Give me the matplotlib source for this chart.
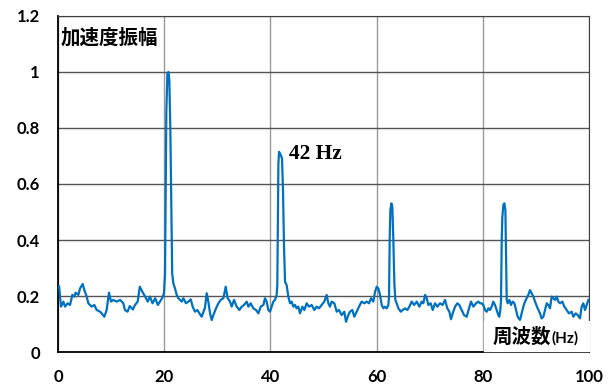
import matplotlib
matplotlib.use('Agg')
import matplotlib.pyplot as plt

plt.rcParams['font.family'] = ['Lato', 'Liberation Sans', 'DejaVu Sans']
plt.rcParams['font.weight'] = 'bold'

# spectrum (Hz, amplitude)
freq = [0.2, 0.56, 1.0, 1.32, 1.82, 2.26, 2.7, 3.08, 3.33, 3.83, 4.14, 4.65, 4.96, 5.4, 5.71,
        6.34, 6.84, 7.28, 7.91, 8.22, 8.72, 9.16, 9.6, 9.98, 10.4, 11.05, 11.7, 12.3, 12.6,
        13.1, 13.5, 14.1, 14.5, 15.0, 15.4, 15.9, 16.4, 16.9, 17.3, 17.8, 18.3, 18.8, 19.2,
        19.6, 19.96, 20.15, 20.28, 20.4, 20.6, 20.8, 20.96, 21.15, 21.34, 21.5, 21.72, 22.03,
        22.35, 22.66, 22.98, 23.29, 23.6, 24.1, 24.55, 24.99, 25.36, 25.8, 26.24, 26.62,
        27.06, 27.68, 28.0, 28.31, 28.63, 28.94, 29.25, 29.76, 30.2, 30.63, 31.14, 31.58,
        31.95, 32.4, 32.7, 33.15, 33.65, 34.15, 34.59, 35.03, 35.53, 35.85, 36.28, 36.79,
        37.29, 37.73, 38.17, 38.67, 38.98, 39.29, 39.61, 39.92, 40.24, 40.55, 40.86, 41.18,
        41.3, 41.4, 41.5, 41.62, 41.93, 42.18, 42.37, 42.56, 42.75, 43.06, 43.37, 43.69,
        44.0, 44.32, 44.63, 44.94, 45.26, 45.57, 46.01, 46.39, 46.83, 47.27, 47.77, 48.27,
        48.71, 49.15, 49.65, 50.15, 50.59, 50.91, 51.22, 51.53, 52.04, 52.48, 52.92, 53.42,
        53.92, 54.23, 54.67, 54.99, 55.43, 55.8, 56.24, 56.68, 57.18, 57.69, 58.13, 58.57,
        58.94, 59.38, 59.7, 60.02, 60.33, 60.64, 60.96, 61.27, 61.58, 61.9, 62.21, 62.34,
        62.46, 62.59, 62.78, 62.96, 63.15, 63.34, 63.53, 63.78, 64.1, 64.54, 64.91, 65.35,
        65.79, 66.17, 66.6, 67.05, 67.55, 68.05, 68.49, 68.8, 69.12, 69.43, 69.75, 70.19,
        70.56, 71.0, 71.44, 71.94, 72.44, 72.88, 73.32, 73.7, 74.01, 74.33, 74.77, 75.21,
        75.58, 76.02, 76.46, 76.96, 77.4, 77.78, 78.22, 78.72, 79.16, 79.47, 79.79, 80.1,
        80.41, 80.73, 81.04, 81.35, 81.67, 81.98, 82.3, 82.61, 82.92, 83.11, 83.3, 83.43,
        83.56, 83.68, 83.87, 84.06, 84.25, 84.37, 84.5, 84.68, 84.99, 85.31, 85.62, 85.94,
        86.19, 86.56, 87.0, 87.32, 87.63, 87.95, 88.26, 88.57, 88.89, 89.2, 89.52, 89.83,
        90.33, 90.77, 91.08, 91.4, 91.71, 92.03, 92.34, 92.65, 92.97, 93.28, 93.6, 93.91,
        94.22, 94.54, 94.98, 95.35, 95.79, 96.23, 96.73, 97.05, 97.49, 97.86, 98.3, 98.62,
        98.93, 99.25, 99.56, 99.87]
amp = [0.235, 0.162, 0.18, 0.162, 0.174, 0.168, 0.204, 0.198, 0.212, 0.204, 0.227, 0.243, 0.221,
       0.198, 0.174, 0.162, 0.168, 0.15, 0.144, 0.138, 0.126, 0.15, 0.212, 0.18, 0.186, 0.18,
       0.186, 0.174, 0.15, 0.144, 0.164, 0.152, 0.168, 0.18, 0.233, 0.215, 0.198, 0.18, 0.198,
       0.174, 0.192, 0.168, 0.18, 0.192, 0.21, 0.28, 0.57, 0.86, 0.996, 1.0, 0.971, 0.80,
       0.51, 0.28, 0.245, 0.227, 0.204, 0.192, 0.186, 0.18, 0.192, 0.174, 0.18, 0.188, 0.162,
       0.144, 0.15, 0.138, 0.126, 0.159, 0.21, 0.18, 0.138, 0.114, 0.132, 0.156, 0.174,
       0.186, 0.192, 0.233, 0.192, 0.18, 0.162, 0.186, 0.162, 0.15, 0.162, 0.168, 0.18,
       0.162, 0.174, 0.156, 0.15, 0.138, 0.162, 0.168, 0.192, 0.18, 0.15, 0.144, 0.162,
       0.18, 0.186, 0.204, 0.24, 0.45, 0.67, 0.715, 0.704, 0.692, 0.579, 0.376, 0.251, 0.239,
       0.198, 0.174, 0.18, 0.162, 0.168, 0.156, 0.162, 0.138, 0.162, 0.15, 0.174, 0.162,
       0.168, 0.15, 0.162, 0.156, 0.168, 0.18, 0.204, 0.174, 0.162, 0.18, 0.174, 0.144,
       0.15, 0.132, 0.144, 0.108, 0.132, 0.144, 0.15, 0.126, 0.144, 0.162, 0.18, 0.174,
       0.18, 0.174, 0.192, 0.18, 0.215, 0.233, 0.227, 0.204, 0.168, 0.156, 0.162, 0.156,
       0.168, 0.198, 0.40, 0.507, 0.531, 0.519, 0.40, 0.245, 0.186, 0.174, 0.156, 0.144,
       0.15, 0.156, 0.15, 0.162, 0.18, 0.168, 0.18, 0.162, 0.18, 0.174, 0.204, 0.192, 0.168,
       0.174, 0.15, 0.174, 0.162, 0.174, 0.168, 0.186, 0.156, 0.144, 0.117, 0.138, 0.162,
       0.174, 0.168, 0.15, 0.132, 0.126, 0.156, 0.18, 0.162, 0.174, 0.18, 0.174, 0.174,
       0.168, 0.15, 0.144, 0.156, 0.15, 0.162, 0.18, 0.168, 0.15, 0.132, 0.126, 0.15, 0.186,
       0.40, 0.483, 0.525, 0.531, 0.507, 0.34, 0.186, 0.174, 0.186, 0.168, 0.18, 0.174,
       0.156, 0.126, 0.114, 0.138, 0.162, 0.18, 0.192, 0.204, 0.221, 0.21, 0.198, 0.18,
       0.156, 0.138, 0.12, 0.126, 0.15, 0.174, 0.168, 0.156, 0.198, 0.192, 0.186, 0.198,
       0.18, 0.174, 0.18, 0.162, 0.15, 0.138, 0.144, 0.126, 0.138, 0.132, 0.12, 0.162,
       0.174, 0.15, 0.168, 0.186]

x_ticks = [0, 20, 40, 60, 80, 100]
y_ticks = [0, 0.2, 0.4, 0.6, 0.8, 1, 1.2]
y_labels = ['0', '0.2', '0.4', '0.6', '0.8', '1', '1.2']

fig = plt.figure(figsize=(6.14, 3.87), dpi=100)
ax = fig.add_axes([0.0945, 0.0904, 0.8648, 0.8683])

ax.plot(freq, amp, color='#0070C0', lw=1.6, zorder=3)

ax.set_xlim(0, 100)
ax.set_ylim(0, 1.2)
ax.set_xticks(x_ticks)
ax.set_yticks(y_ticks)
ax.set_yticklabels(y_labels)
ax.tick_params(length=0, labelsize=12)
ax.tick_params(axis='x', pad=12)
ax.tick_params(axis='y', pad=13)

ax.xaxis.grid(True, color='#999999', lw=1)
ax.yaxis.grid(True, color='#555555', lw=1)
ax.set_axisbelow(True)

for side in ['left', 'bottom']:
    ax.spines[side].set_color('black')
    ax.spines[side].set_linewidth(1.3)
for side in ['top', 'right']:
    ax.spines[side].set_color('#404040')
    ax.spines[side].set_linewidth(0.8)

cjk = ['Noto Sans CJK JP', 'DejaVu Sans']

ax.text(0.004, 0.965, '加速度振幅', transform=ax.transAxes, ha='left', va='top',
        fontsize=14, fontweight='bold', family=cjk, zorder=5)

# white patch behind the x-axis title, right of the 80 Hz gridline
ax.fill_between([80.3, 100], 0.003, 0.11, color='white', zorder=4)
t = ax.text(81.9, 0.018, '周波数', ha='left', va='bottom',
            fontsize=14, fontweight='bold', family=cjk, zorder=6)
ax.annotate('(Hz)', xy=(1, 0.05), xycoords=t, ha='left', va='bottom',
            fontsize=11, fontweight='bold', zorder=6)

ax.text(43.5, 0.707, '42 Hz', fontsize=15.5, fontweight='bold',
        family='Liberation Serif', va='center', ha='left', zorder=5)

fig.savefig('out.png', dpi=100)
